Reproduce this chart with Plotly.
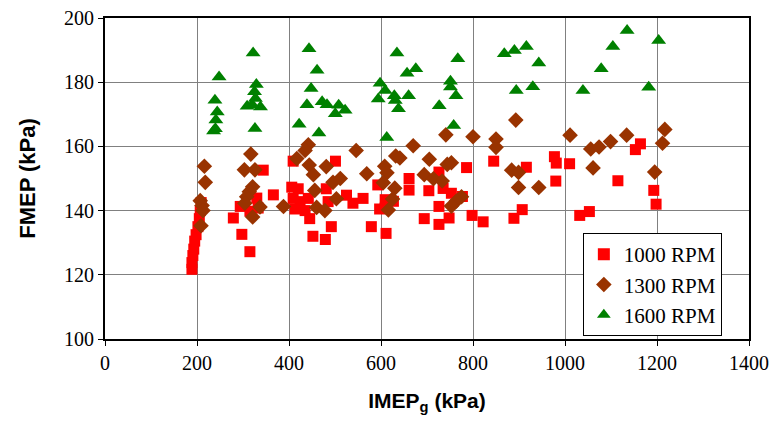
import plotly.graph_objects as go

# 1000 RPM (red squares)
imep_1000 = [189, 189, 191, 193, 195, 198, 202, 205, 207, 209,
             279, 294, 297.5, 315, 315, 330, 333, 344, 366,
             409, 501, 406, 420, 409, 424, 442, 413, 435, 445, 452, 479, 492, 481, 485,
             525, 539, 561, 579, 593, 597,
             609, 609, 627, 611, 661, 661, 704, 726, 735, 753, 777, 726, 748, 726, 694,
             798, 822, 786, 845, 889, 907, 916, 977, 981, 1010, 980,
             1153, 1164, 1115, 1193, 1198, 1032, 1053]
fmep_1000 = [121.7, 123.8, 126, 128, 130.5, 132.5, 135, 137.5, 140, 142.5,
             137.7, 141.3, 132.6, 127.2, 139.8, 143.9, 140.8, 152.6, 144.9,
             155.4, 155.4, 147.3, 146.8, 143.8, 142.8, 143.8, 140.5, 140, 137.5, 132, 131, 135, 146.8, 142.8,
             144.8, 142.3, 143.8, 135, 148, 140.5,
             143.4, 140.8, 142.9, 132.9, 150, 146.4, 146.2, 152, 146.9, 145.4, 144.4, 141.3, 137.7, 135.7, 137.5,
             138.5, 136.5, 153.4, 155.4, 137.6, 140.3, 153.5, 156.8, 154.8, 154.6, 149.2,
             159, 160.8, 149.3, 146.3, 142, 138.5, 139.7]

# 1300 RPM (brown diamonds)
imep_1300 = [216, 218, 207, 211, 213, 208.7,
             317, 303, 326, 321, 313.7, 308, 304, 337, 321, 388,
             442, 435, 417, 546, 444, 453, 481, 495.6, 511.5, 456, 503, 460, 478, 569,
             670, 741, 800, 632, 641, 608, 613, 605, 630, 625, 616,
             705, 694, 714, 733, 744, 753, 775, 764, 753,
             850, 850, 884, 899, 899, 943, 1011, 893,
             1056, 1074, 1099, 1134, 1217, 1212, 1061, 1195]
fmep_1300 = [153.8, 148.8, 143.1, 141.6, 140, 135.3,
             157.6, 152.7, 152.7, 147.4, 145.9, 144.3, 142.3, 141.1, 138, 141.3,
             160.5, 158.7, 156.2, 158.7, 154.2, 151.2, 153.7, 148.8, 150, 146.3, 143.7, 141, 140, 151.5,
             160.2, 163.6, 163, 157, 156.4, 153.8, 151.8, 148.7, 147, 143.6, 140.2,
             156, 151.2, 149.9, 149.2, 154.4, 154.9, 144.3, 143, 141.4,
             162.3, 159.7, 152.6, 151.9, 147.2, 147.2, 163.5, 168.2,
             159.2, 159.8, 161.5, 163.5, 165.3, 161, 153.3, 152]

# 1600 RPM (green triangles)
imep_1600 = [322, 248, 329, 325, 239, 244, 241, 236, 240, 309, 327, 338, 326, 320,
             443.5, 461, 448, 439, 472, 482.6, 508, 522, 500.6, 422, 465,
             598, 594, 609, 629, 631, 638, 660, 612.5, 634.6, 656.6, 675.7, 767, 751, 751, 763, 726.5, 758,
             868, 890, 916, 943, 894, 930,
             1135, 1104, 1203.6, 1078.7, 1039, 1182]
fmep_1600 = [189.1, 181.6, 179.3, 177, 174.4, 170.7, 168.2, 164.8, 165.5, 172.5, 174.9, 172.3, 165.6, 173,
             190.4, 183.7, 178, 173, 173.9, 173, 172.8, 171.3, 170.2, 166.9, 164.2,
             179.7, 174.8, 177.4, 175.8, 174.3, 171.7, 175.8, 162.8, 189.1, 182.8, 184.2, 187.3, 180.3, 178.5, 175.8, 172.7, 166.5,
             188.9, 189.9, 191.1, 186, 177.4, 178.6,
             196.1, 191.1, 193, 184.2, 177.4, 178.4]

x_ticks = [0, 200, 400, 600, 800, 1000, 1200, 1400]
y_ticks = [100, 120, 140, 160, 180, 200]

fig = go.Figure()
fig.add_trace(go.Scatter(x=imep_1000, y=fmep_1000, mode="markers", name="1000 RPM",
                         marker=dict(symbol="square", size=11, color="#FF0000")))
fig.add_trace(go.Scatter(x=imep_1300, y=fmep_1300, mode="markers", name="1300 RPM",
                         marker=dict(symbol="diamond", size=12, color="#993300")))
fig.add_trace(go.Scatter(x=imep_1600, y=fmep_1600, mode="markers", name="1600 RPM",
                         marker=dict(symbol="triangle-up", size=13, color="#008000")))

serif = "Liberation Serif, Times New Roman, serif"
sans = "Liberation Sans, Arial, sans-serif"

fig.update_layout(
    width=773, height=422,
    margin=dict(l=104.5, r=24, t=17.5, b=82.5),
    paper_bgcolor="white", plot_bgcolor="white",
    showlegend=True,
    legend=dict(x=0.742, y=0.33, xanchor="left", yanchor="top",
                bordercolor="black", borderwidth=1, bgcolor="white",
                font=dict(family=serif, size=21, color="black"),
                itemsizing="constant", itemwidth=30, tracegroupgap=0),
    xaxis=dict(range=[0, 1400], tickvals=x_ticks, ticktext=[str(v) for v in x_ticks],
               automargin=False,
               showgrid=True, gridcolor="#808080", gridwidth=1,
               showline=True, linecolor="black", linewidth=2, mirror=True,
               ticks="outside", ticklen=5, tickcolor="black",
               tickfont=dict(family=serif, size=20, color="black"),
               zeroline=False,
               title=dict(text="<b>IMEP<sub>g</sub> (kPa)</b>", standoff=20,
                          font=dict(family=sans, size=21, color="black"))),
    yaxis=dict(range=[100, 200], tickvals=y_ticks, ticktext=[str(v) for v in y_ticks],
               automargin=False,
               showgrid=True, gridcolor="#808080", gridwidth=1,
               showline=True, linecolor="black", linewidth=2, mirror=True,
               ticks="outside", ticklen=5, tickcolor="black",
               tickfont=dict(family=serif, size=20, color="black"),
               zeroline=False,
               title=dict(text="<b>FMEP (kPa)</b>", standoff=22,
                          font=dict(family=sans, size=22, color="black"))),
)

fig.write_html("out.html")
